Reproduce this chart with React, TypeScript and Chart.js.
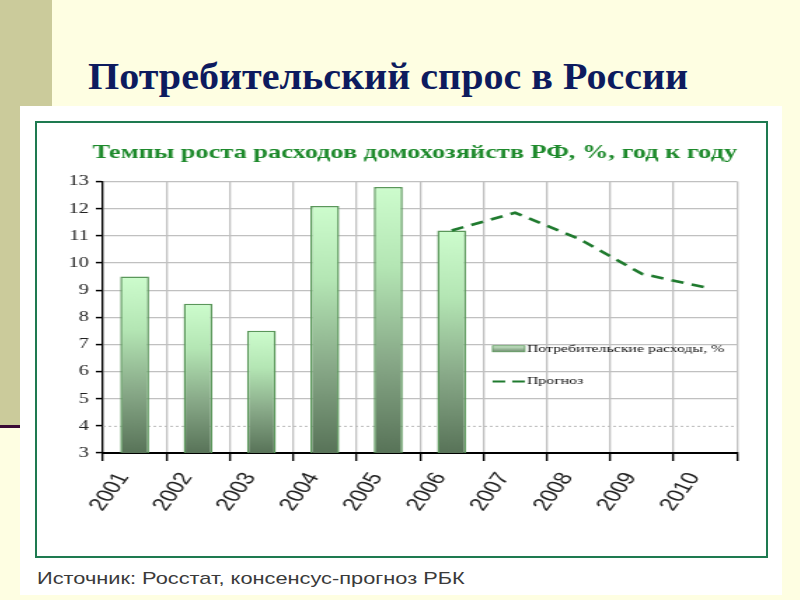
import React, { useEffect, useLayoutEffect, useRef, useState } from "react";
import { Chart, registerables } from "chart.js";

Chart.register(...registerables);

// ---------- data ----------
const years = ["2001", "2002", "2003", "2004", "2005", "2006", "2007", "2008", "2009", "2010"];
const spending = [9.5, 8.5, 7.5, 12.1, 12.8, 11.2, null, null, null, null];
const forecast = [null, null, null, null, null, 11.2, 11.85, 10.9, 9.6, 9.1];
const yMin = 3;
const yMax = 13;
const yStep = 1;
const dottedGridValue = 4;

const slideTitle = "Потребительский спрос в России";
const chartTitle = "Темпы роста расходов домохозяйств РФ, %, год к году";
const spendingLabel = "Потребительские расходы, %";
const forecastLabel = "Прогноз";
const sourceText = "Источник: Росстат, консенсус-прогноз РБК";

// ---------- styling ----------
const STRETCH = 1.402;
const CANVAS_W = 544;
const CANVAS_H = 433;
const LINE_COLOR = "#1f7a2e";
const BAR_BORDER = "#5a975a";

function barGradient(ctx: CanvasRenderingContext2D, top: number, bottom: number) {
  const g = ctx.createLinearGradient(0, top, 0, bottom);
  g.addColorStop(0, "#cdfccd");
  g.addColorStop(0.3, "#b4e6b4");
  g.addColorStop(0.65, "#88a988");
  g.addColorStop(1, "#587358");
  return g;
}

const dottedGridPlugin = {
  id: "dottedGrid",
  beforeDatasetsDraw(chart: any) {
    const { ctx, chartArea, scales } = chart;
    const y = scales.y.getPixelForValue(dottedGridValue);
    ctx.save();
    ctx.strokeStyle = "#b8b8b8";
    ctx.lineWidth = 1;
    ctx.setLineDash([2, 2]);
    ctx.beginPath();
    ctx.moveTo(chartArea.left, y + 0.5);
    ctx.lineTo(chartArea.right, y + 0.5);
    ctx.stroke();
    ctx.restore();
  },
};

const insideLegendPlugin = {
  id: "insideLegend",
  afterDatasetsDraw(chart: any) {
    const { ctx, chartArea } = chart;
    const w = chartArea.right - chartArea.left;
    const h = chartArea.bottom - chartArea.top;
    const x0 = chartArea.left + w * 0.6145;
    const x1 = x0 + 23;
    const rows = [chartArea.top + h * 0.616, chartArea.top + h * 0.7366];
    ctx.save();
    // item 1: bar swatch
    const y1 = rows[0];
    const g = ctx.createLinearGradient(0, y1 - 3, 0, y1 + 3);
    g.addColorStop(0, "#cfeccf");
    g.addColorStop(1, "#6d8c6d");
    ctx.fillStyle = g;
    ctx.fillRect(x0, y1 - 3, x1 - x0, 6);
    ctx.strokeStyle = BAR_BORDER;
    ctx.lineWidth = 0.8;
    ctx.strokeRect(x0, y1 - 3, x1 - x0, 6);
    // item 2: dashed line
    const y2 = rows[1];
    ctx.strokeStyle = LINE_COLOR;
    ctx.lineWidth = 2.2;
    ctx.setLineDash([9, 5]);
    ctx.beginPath();
    ctx.moveTo(x0, y2);
    ctx.lineTo(x1, y2);
    ctx.stroke();
    ctx.setLineDash([]);
    // texts
    ctx.fillStyle = "#111";
    ctx.font = "11.3px 'Liberation Serif'";
    ctx.textBaseline = "middle";
    ctx.textAlign = "left";
    ctx.fillText(chart.data.datasets[0].label, x1 + 1.5, y1);
    ctx.fillText(chart.data.datasets[1].label, x1 + 1.5, y2);
    ctx.restore();
  },
};

function FitText({ text, width, style }: { text: string; width: number; style: React.CSSProperties }) {
  const ref = useRef<HTMLSpanElement>(null);
  const [sx, setSx] = useState(1);
  useLayoutEffect(() => {
    if (ref.current) {
      const w = ref.current.offsetWidth;
      if (w > 0) setSx(width / w);
    }
  }, [text, width]);
  return (
    <span
      ref={ref}
      style={{
        ...style,
        position: "absolute",
        whiteSpace: "nowrap",
        transform: `scaleX(${sx})`,
        transformOrigin: "0 0",
      }}
    >
      {text}
    </span>
  );
}

function ChartCanvas() {
  const canvasRef = useRef<HTMLCanvasElement>(null);
  useEffect(() => {
    if (!canvasRef.current) return;
    const chart = new Chart(canvasRef.current, {
      type: "bar",
      data: {
        labels: years,
        datasets: [
          {
            type: "bar",
            label: spendingLabel,
            data: spending,
            order: 1,
            backgroundColor: (c: any) => {
              const ch = c.chart;
              const ys = ch.scales?.y;
              if (!ch.chartArea || !ys || c.raw == null) return "#a0d0a0";
              const top = ys.getPixelForValue(c.raw);
              const bottom = ys.getPixelForValue(ys.min);
              return barGradient(ch.ctx, top, bottom);
            },
            borderColor: BAR_BORDER,
            borderWidth: 1.5,
            barPercentage: 0.455,
            categoryPercentage: 1,
          },
          {
            type: "line",
            label: forecastLabel,
            data: forecast,
            order: 0,
            borderColor: LINE_COLOR,
            borderWidth: 2.6,
            borderDash: [9, 6],
            pointRadius: 0,
            tension: 0,
            fill: false,
          },
        ],
      } as any,
      options: {
        responsive: false,
        animation: false,
        devicePixelRatio: 1,
        layout: { padding: { left: 0, right: 44.7, top: 0, bottom: 0 } },
        plugins: {
          legend: { display: false },
          tooltip: { enabled: false },
          title: {
            display: true,
            text: chartTitle,
            align: "end",
            color: "#1e8a2c",
            font: { family: "'Liberation Serif'", size: 18.8, weight: "bold" },
            padding: { top: 18.5, bottom: 17.5 },
          },
        },
        scales: {
          x: {
            offset: true,
            grid: {
              offset: true,
              color: "#c0c0c0",
              lineWidth: 1.3,
              tickColor: "#000",
              tickLength: 8,
              tickWidth: 1.4,
            },
            border: { display: true, color: "#000", width: 2 },
            ticks: {
              autoSkip: false,
              minRotation: 61,
              maxRotation: 61,
              padding: 8,
              labelOffset: -8,
              color: "#222",
              font: { family: "'Liberation Sans'", size: 18 },
            },
            afterFit: (s: any) => {
              s.height = 103;
            },
          },
          y: {
            min: yMin,
            max: yMax,
            ticks: {
              stepSize: yStep,
              padding: 5,
              color: "#222",
              font: { family: "'Liberation Serif'", size: 14.5 },
            },
            grid: {
              color: (c: any) => (c.tick && c.tick.value === dottedGridValue ? "rgba(0,0,0,0)" : "#c0c0c0"),
              lineWidth: 1.2,
              tickColor: "#000",
              tickLength: 5,
              tickWidth: 1.5,
            },
            border: { display: true, color: "#000", width: 1.3 },
            afterFit: (s: any) => {
              s.width = 47;
            },
          },
        },
      } as any,
      plugins: [dottedGridPlugin, insideLegendPlugin],
    });
    return () => chart.destroy();
  }, []);
  return <canvas ref={canvasRef} width={CANVAS_W} height={CANVAS_H} />;
}

export default function App() {
  return (
    <div
      style={{
        position: "fixed",
        left: 0,
        top: 0,
        width: 800,
        height: 600,
        overflow: "hidden",
        background: "#FEFEE2",
      }}
    >
      <div style={{ position: "absolute", left: 0, top: 0, width: 52, height: 425, background: "#CBCB9B" }} />
      <div style={{ position: "absolute", left: 0, top: 425, width: 52, height: 3, background: "#3a0a35" }} />
      <FitText
        text={slideTitle}
        width={600}
        style={{
          left: 88,
          top: 58,
          fontFamily: "'Liberation Serif', serif",
          fontWeight: "bold",
          fontSize: 37,
          lineHeight: "37px",
          color: "#0d1b5e",
        }}
      />
      <div style={{ position: "absolute", left: 20, top: 106, width: 762, height: 489, background: "#ffffff" }} />
      <div
        style={{
          position: "absolute",
          left: 35,
          top: 121,
          width: 733,
          height: 437,
          border: "2px solid #1e7a50",
          boxSizing: "border-box",
        }}
      />
      <div
        style={{
          position: "absolute",
          left: 37,
          top: 123,
          width: CANVAS_W,
          height: CANVAS_H,
          transform: `scaleX(${STRETCH})`,
          transformOrigin: "0 0",
        }}
      >
        <ChartCanvas />
      </div>
      <FitText
        text={sourceText}
        width={428}
        style={{
          left: 37,
          top: 570,
          fontFamily: "'Liberation Sans', sans-serif",
          fontSize: 17,
          lineHeight: "17px",
          color: "#3a3a3a",
        }}
      />
    </div>
  );
}
